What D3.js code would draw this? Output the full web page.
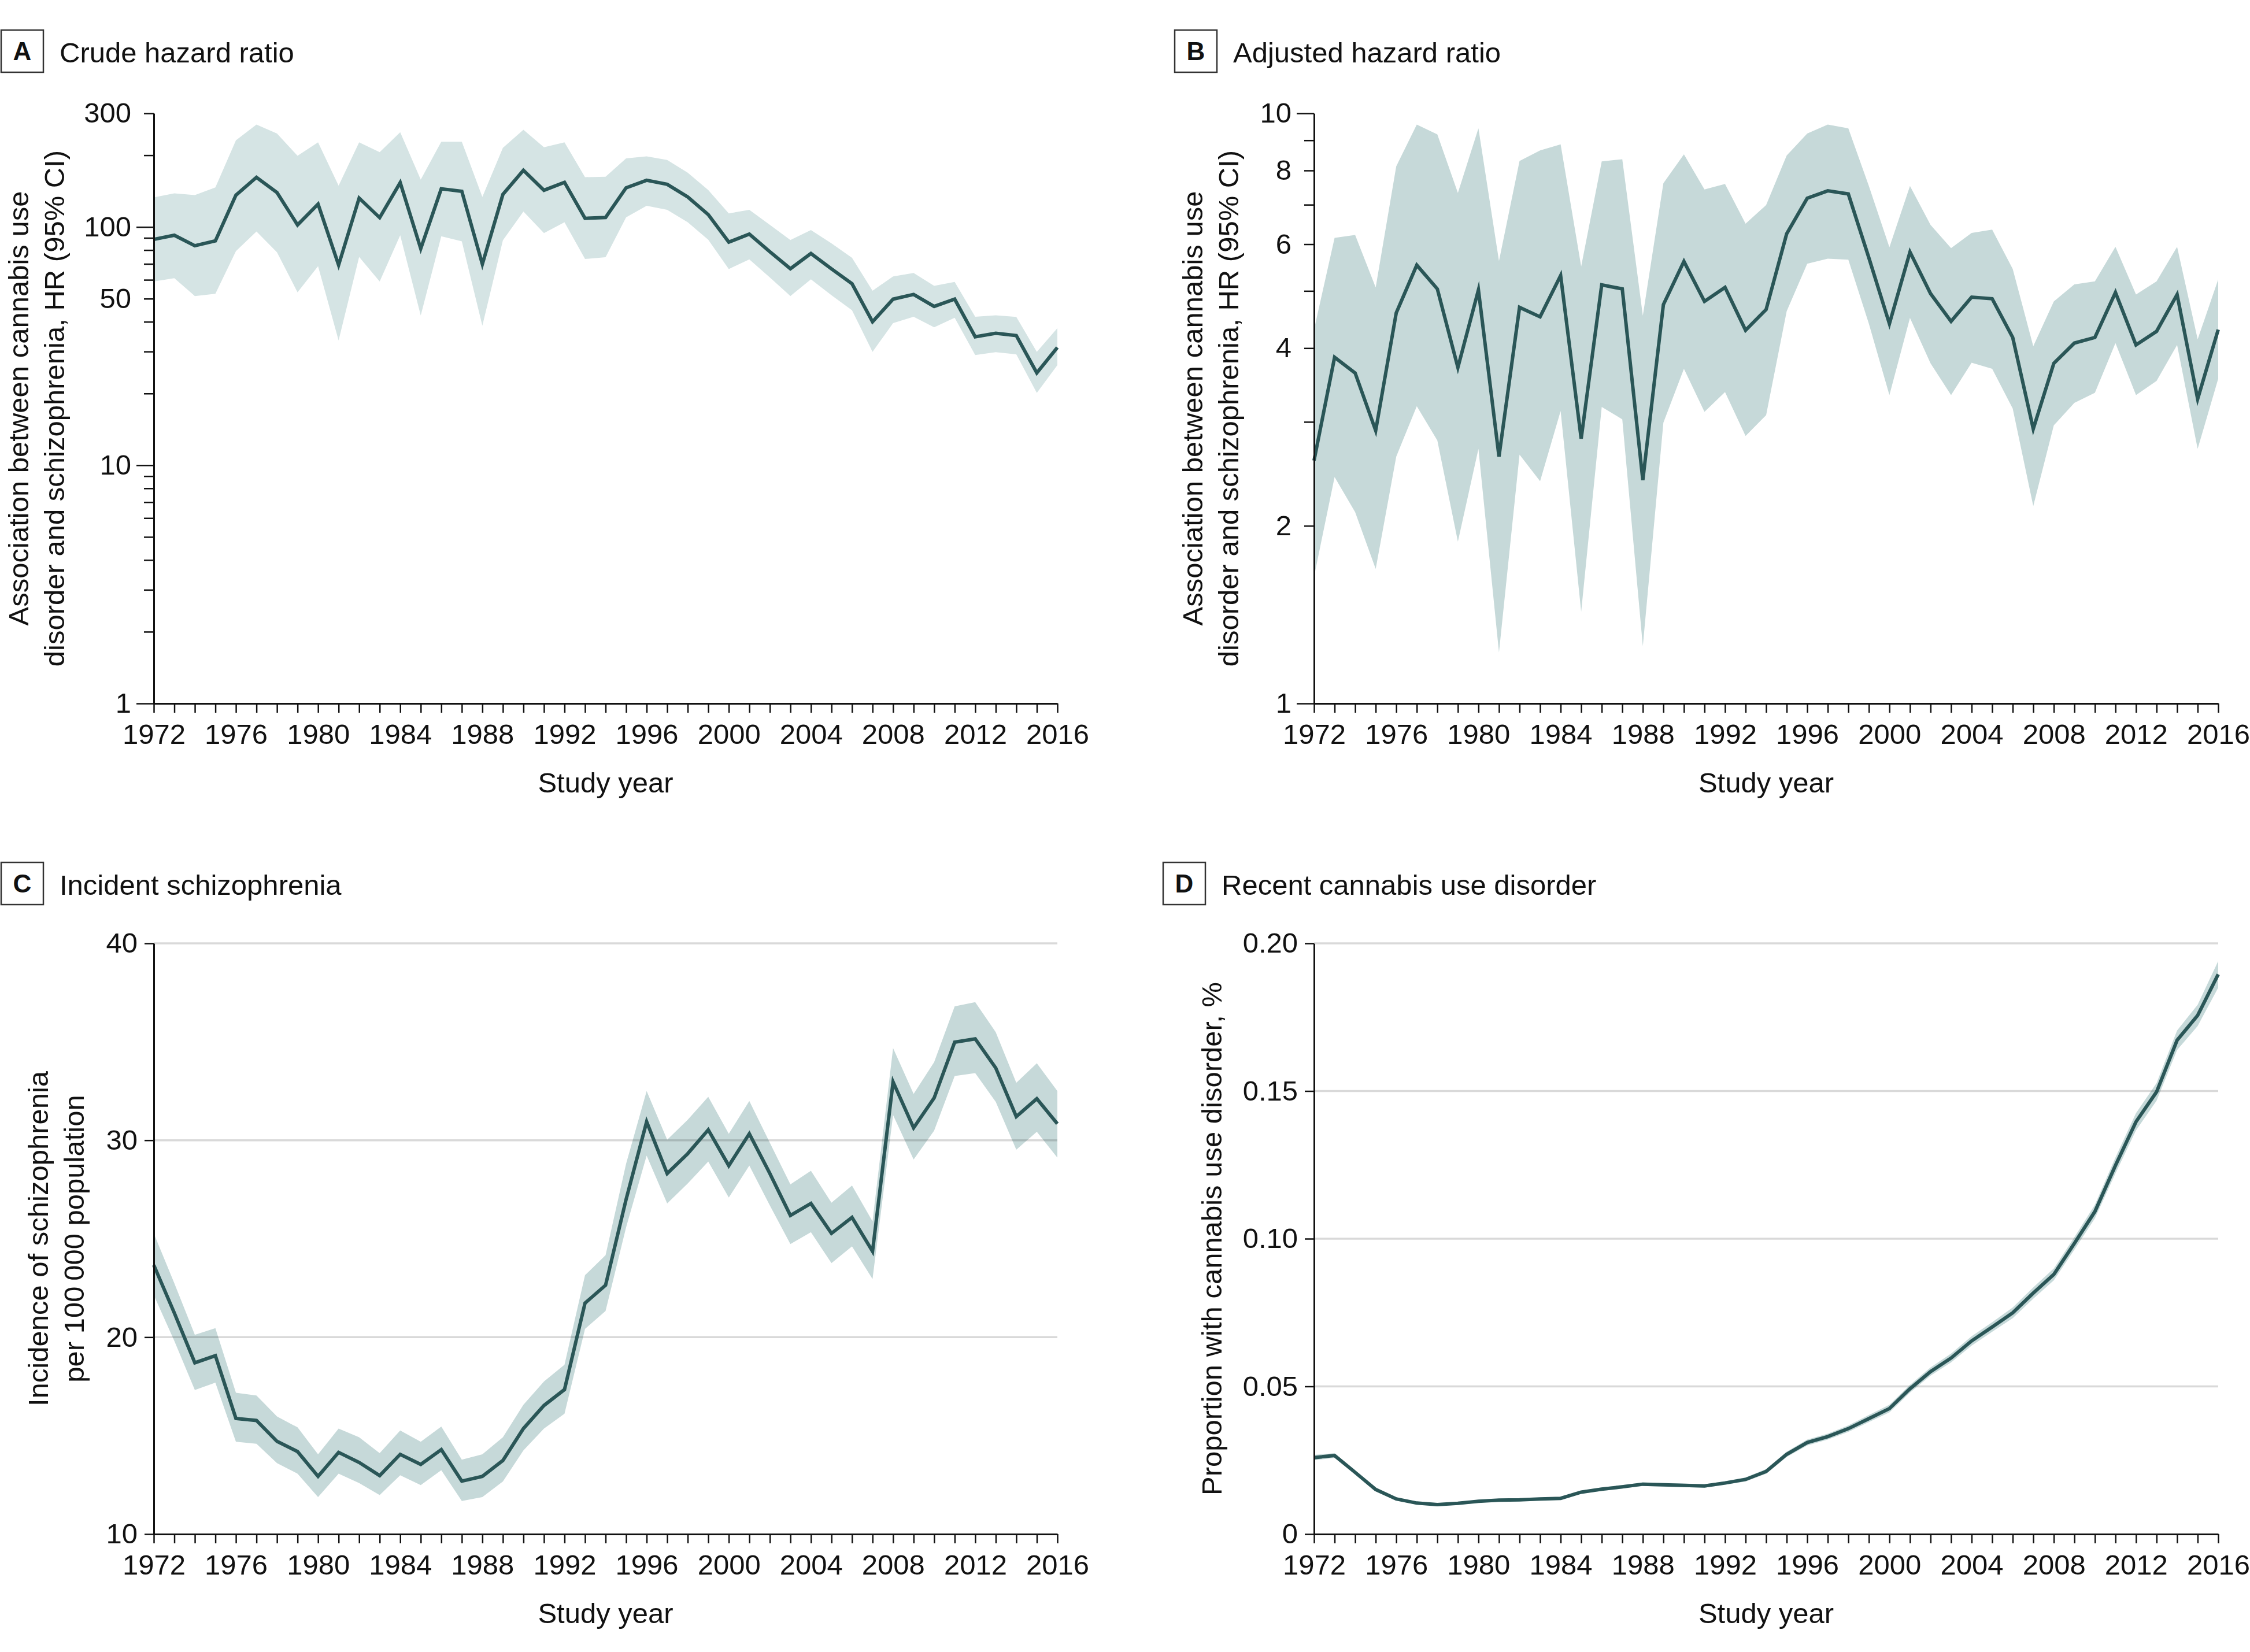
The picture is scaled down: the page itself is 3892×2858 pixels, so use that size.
<!DOCTYPE html>
<html><head><meta charset="utf-8">
<script src="https://cdn.jsdelivr.net/npm/d3@7"></script>
<style>
body{margin:0;background:#fff}
text{font-family:"Liberation Sans",Arial,sans-serif;fill:#111}
</style>
</head><body>
<svg id="chart" width="3892" height="2858"></svg>
<script>
// ---------- categories ----------
const years = [1972,1973,1974,1975,1976,1977,1978,1979,1980,1981,1982,1983,1984,1985,1986,1987,1988,1989,1990,1991,1992,1993,1994,1995,1996,1997,1998,1999,2000,2001,2002,2003,2004,2005,2006,2007,2008,2009,2010,2011,2012,2013,2014,2015,2016];
const yearLabels = [1972,1976,1980,1984,1988,1992,1996,2000,2004,2008,2012,2016];

// ---------- A: crude hazard ratio ----------
const crudeHR = [88.7,92.3,83.4,87.4,136,161.5,139.4,102,124.7,69.2,132.2,109.4,153.5,81.1,144.6,141.2,69.8,137,173,142.6,154,108.7,109.6,146,157,151,133.6,112.7,86.4,93.3,78.7,66.8,77.4,66.7,57.8,40,49.8,52.1,46.4,49.8,34.6,35.8,35,24.4,31.2];
const crudeHi = [133,138.4,136,146.5,231,269,246.6,199,226.6,149,226.6,206,250,158,228,228,133.6,215,256,216,226.6,161.8,162.6,194,198,191,169,143,114,118,102,88.2,97,85.3,74.2,54,62,64.1,56.6,58.8,42,42.6,41.9,29.9,37.6];
const crudeLo = [59,61,51.3,52.4,79.2,95.7,78.3,53.2,68.5,33.4,74.9,59,92.3,42.5,91.4,87,38.5,87.9,116,94.2,104.7,73.4,74.6,109.8,122.7,118,104.7,88.4,66.6,73.1,61.4,51.3,60.3,51.7,44.7,29.9,39.5,42,37.9,41.6,29,29.8,29.2,20.1,26.3];
const crudeTicks = [1,2,3,4,5,6,7,8,9,10,20,30,40,50,60,70,80,90,100,200,300];
const crudeTickLabels = [1,10,50,100,300];

// ---------- B: adjusted hazard ratio ----------
const adjHR = [2.58,3.86,3.63,2.90,4.59,5.53,5.04,3.71,5.02,2.62,4.69,4.52,5.31,2.81,5.12,5.04,2.39,4.74,5.61,4.80,5.07,4.29,4.65,6.25,7.18,7.39,7.30,5.69,4.40,5.82,4.95,4.44,4.88,4.85,4.17,2.92,3.77,4.08,4.17,4.97,4.05,4.27,4.93,3.28,4.30];
const adjHi = [4.30,6.15,6.22,5.07,8.13,9.57,9.21,7.33,9.43,5.62,8.30,8.65,8.86,5.50,8.29,8.36,4.54,7.61,8.52,7.43,7.59,6.50,6.99,8.48,9.24,9.57,9.43,7.53,5.93,7.53,6.47,5.91,6.27,6.35,5.45,4.03,4.80,5.13,5.19,5.94,4.93,5.19,5.94,4.14,5.23];
const adjLo = [1.64,2.42,2.11,1.69,2.62,3.19,2.79,1.88,2.70,1.22,2.64,2.38,3.13,1.43,3.18,3.03,1.25,2.99,3.69,3.12,3.37,2.84,3.08,4.62,5.56,5.67,5.65,4.40,3.33,4.50,3.77,3.33,3.78,3.69,3.16,2.16,2.96,3.23,3.36,4.08,3.33,3.52,4.05,2.70,3.55];
const adjTicks = [1,2,3,4,5,6,7,8,9,10];
const adjTickLabels = [1,2,4,6,8,10];

// ---------- C: incident schizophrenia ----------
const incid = [23.66,21.23,18.70,19.06,15.87,15.77,14.71,14.19,12.93,14.15,13.64,12.97,14.05,13.54,14.29,12.69,12.93,13.74,15.36,16.53,17.34,21.73,22.64,27.0,30.94,28.31,29.32,30.53,28.71,30.33,28.31,26.18,26.79,25.27,26.08,24.36,32.96,30.63,32.15,34.98,35.15,33.67,31.20,32.11,30.84];
const incidHi = [25.27,22.74,20.12,20.46,17.18,17.04,15.97,15.42,14.05,15.36,14.92,14.11,15.26,14.69,15.46,13.78,14.05,14.92,16.57,17.75,18.60,23.15,24.16,28.81,32.50,30.03,31.04,32.21,30.33,31.99,29.87,27.76,28.45,26.83,27.70,25.88,34.68,32.35,33.97,36.80,37.01,35.49,32.92,33.91,32.50];
const incidLo = [22.14,19.81,17.32,17.69,14.69,14.59,13.60,13.07,11.88,13.07,12.59,11.98,12.99,12.49,13.24,11.68,11.88,12.67,14.25,15.36,16.11,20.42,21.33,25.58,29.22,26.79,27.80,28.92,27.09,28.71,26.69,24.73,25.33,23.76,24.61,22.95,31.28,29.02,30.49,33.26,33.41,31.95,29.52,30.43,29.12];
const incidTicks = [10,20,30,40];

// ---------- D: recent cannabis use disorder ----------
const cud = [0.0259,0.0266,0.0209,0.0151,0.0119,0.0105,0.0100,0.0104,0.0111,0.0115,0.0116,0.0119,0.0121,0.0142,0.0152,0.0160,0.0169,0.0167,0.0165,0.0163,0.0173,0.0185,0.0212,0.0270,0.0310,0.0330,0.0357,0.0391,0.0425,0.0492,0.0550,0.0596,0.0654,0.0701,0.0749,0.0816,0.0879,0.0984,0.1092,0.1248,0.1396,0.1497,0.1672,0.1756,0.1895];
const cudHi = [0.0268,0.0274,0.0215,0.0156,0.0124,0.0110,0.0105,0.0109,0.0116,0.0120,0.0121,0.0124,0.0126,0.0147,0.0158,0.0166,0.0175,0.0173,0.0171,0.0169,0.0179,0.0192,0.0220,0.0279,0.0320,0.0340,0.0368,0.0403,0.0438,0.0505,0.0564,0.0611,0.0670,0.0717,0.0767,0.0835,0.0899,0.1005,0.1115,0.1275,0.1425,0.1527,0.1705,0.1792,0.1940];
const cudLo = [0.0250,0.0258,0.0203,0.0146,0.0114,0.0100,0.0095,0.0099,0.0106,0.0110,0.0111,0.0114,0.0116,0.0137,0.0146,0.0154,0.0163,0.0161,0.0159,0.0157,0.0167,0.0178,0.0204,0.0261,0.0300,0.0320,0.0346,0.0379,0.0412,0.0479,0.0536,0.0581,0.0638,0.0685,0.0731,0.0797,0.0859,0.0963,0.1069,0.1221,0.1367,0.1467,0.1639,0.1720,0.1850];
const cudTicks = [0,0.05,0.10,0.15,0.20];
const cudTickLabels = ["0","0.05","0.10","0.15","0.20"];

// ---------- drawing ----------
const svg = d3.select("#chart");
svg.append("rect").attr("width",3892).attr("height",2858).attr("fill","#fff");
const FONT = '"Liberation Sans",Arial,sans-serif';
const FS = 49;
const LINE = "#2a5657";

const panels = [
  {letter:"A", title:"Crude hazard ratio", x0:266, x1:1829, yt:196, yb:1217, log:true, domain:[1,300],
   ticks:crudeTicks, labels:crudeTickLabels, fmt:d=>String(d), long:[1,10,100],
   mid:crudeHR, lo:crudeLo, hi:crudeHi, band:"#d5e4e4", grid:[],
   ylab:["Association between cannabis use","disorder and schizophrenia, HR (95% CI)"], ylabX:[49,111],
   boxX:2, boxY:52},
  {letter:"B", title:"Adjusted hazard ratio", x0:2273, x1:3837, yt:196, yb:1217, log:true, domain:[1,10],
   ticks:adjTicks, labels:adjTickLabels, fmt:d=>String(d), long:[1,10],
   mid:adjHR, lo:adjLo, hi:adjHi, band:"#c6d9d9", grid:[],
   ylab:["Association between cannabis use","disorder and schizophrenia, HR (95% CI)"], ylabX:[2080,2142],
   boxX:2032, boxY:52},
  {letter:"C", title:"Incident schizophrenia", x0:266, x1:1829, yt:1632, yb:2654, log:false, domain:[10,40],
   ticks:incidTicks, labels:incidTicks, fmt:d=>String(d), long:[],
   mid:incid, lo:incidLo, hi:incidHi, band:"#c6d9d9", grid:[20,30,40],
   ylab:["Incidence of schizophrenia","per 100\u2009000 population"], ylabX:[83,145],
   boxX:2, boxY:1492},
  {letter:"D", title:"Recent cannabis use disorder", x0:2273, x1:3837, yt:1632, yb:2654, log:false, domain:[0,0.2],
   ticks:cudTicks, labels:cudTicks, fmt:d=>cudTickLabels[cudTicks.indexOf(d)], long:[],
   mid:cud, lo:cudLo, hi:cudHi, band:"#c6d9d9", grid:[0.05,0.10,0.15,0.20],
   ylab:["Proportion with cannabis use disorder, %"], ylabX:[2113],
   boxX:2012, boxY:1492}
];

panels.forEach(p => {
  const g = svg.append("g");
  const x = d3.scaleLinear().domain([1972,2016]).range([p.x0,p.x1]);
  const y = (p.log ? d3.scaleLog() : d3.scaleLinear()).domain(p.domain).range([p.yb,p.yt]);

  // confidence band
  const area = d3.area()
    .x((d,i)=>x(years[i]))
    .y0((d,i)=>y(p.lo[i]))
    .y1((d,i)=>y(p.hi[i]));
  g.append("path").datum(p.mid).attr("d",area).attr("fill",p.band);

  // gridlines (drawn over band, semi-transparent)
  g.selectAll("line.grid").data(p.grid).join("line")
    .attr("x1",p.x0).attr("x2",p.x1)
    .attr("y1",d=>y(d)).attr("y2",d=>y(d))
    .attr("stroke","#000").attr("stroke-opacity",0.15).attr("stroke-width",3.5);

  // estimate line
  const line = d3.line().x((d,i)=>x(years[i])).y(d=>y(d));
  g.append("path").datum(p.mid).attr("d",line)
    .attr("fill","none").attr("stroke",LINE).attr("stroke-width",6)
    .attr("stroke-linejoin","miter").attr("stroke-miterlimit",6);

  // y axis
  const inner = p.log ? 30 : 16;
  const pad = p.log ? 9 : 12;
  const ya = d3.axisLeft(y).tickValues(p.ticks)
    .tickFormat(d => p.labels.includes(d) ? p.fmt(d) : "")
    .tickSizeInner(inner).tickSizeOuter(0).tickPadding(pad);
  const yg = g.append("g").attr("transform",`translate(${p.x0},0)`).call(ya);
  yg.attr("font-size",FS).attr("font-family",FONT);
  yg.select(".domain").attr("stroke","#111").attr("stroke-width",3);
  yg.selectAll(".tick line").attr("stroke","#111").attr("stroke-width",2.5)
    .attr("x2", d => (p.log && !p.long.includes(d)) ? -17 : -inner);
  yg.selectAll(".tick text").attr("fill","#111");

  // x axis
  const xa = d3.axisBottom(x).tickValues(years)
    .tickFormat(d => yearLabels.includes(d) ? String(d) : "")
    .tickSizeInner(16).tickSizeOuter(0).tickPadding(19);
  const xg = g.append("g").attr("transform",`translate(0,${p.yb})`).call(xa);
  xg.attr("font-size",FS).attr("font-family",FONT);
  xg.select(".domain").attr("stroke","#111").attr("stroke-width",3);
  xg.selectAll(".tick line").attr("stroke","#111").attr("stroke-width",2.5);
  xg.selectAll(".tick text").attr("fill","#111");

  // x title
  g.append("text").attr("x",(p.x0+p.x1)/2).attr("y",p.yb+154)
    .attr("text-anchor","middle").attr("font-size",FS).text("Study year");

  // y title
  const cy = (p.yt+p.yb)/2;
  p.ylab.forEach((t,i)=>{
    g.append("text").attr("transform",`translate(${p.ylabX[i]},${cy}) rotate(-90)`)
      .attr("text-anchor","middle").attr("font-size",FS).text(t);
  });

  // panel letter box + title
  g.append("rect").attr("x",p.boxX).attr("y",p.boxY).attr("width",73).attr("height",73)
    .attr("fill","#fff").attr("stroke","#333").attr("stroke-width",2.5);
  g.append("text").attr("x",p.boxX+36.5).attr("y",p.boxY+36.5).attr("dy","0.36em")
    .attr("text-anchor","middle").attr("font-size",44).attr("font-weight","bold").text(p.letter);
  g.append("text").attr("x",p.boxX+101).attr("y",p.boxY+56)
    .attr("font-size",FS).text(p.title);
});
</script>
</body></html>
